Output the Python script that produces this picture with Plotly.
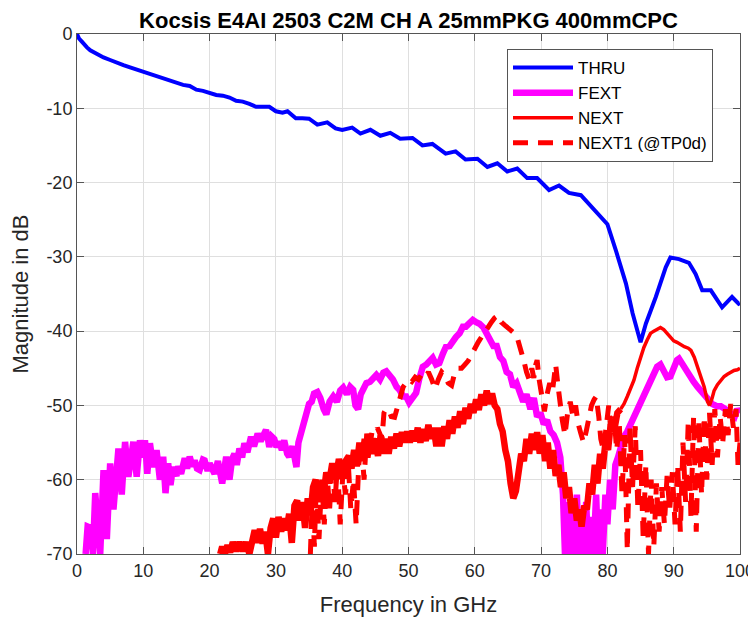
import plotly.graph_objects as go

TITLE = "Kocsis E4AI 2503 C2M CH A 25mmPKG 400mmCPC"
X_LABEL = "Frequency in GHz"
Y_LABEL = "Magnitude in dB"
SERIES_NAMES = ["THRU", "FEXT", "NEXT", "NEXT1 (@TP0d)"]

X_TICKS = [0, 10, 20, 30, 40, 50, 60, 70, 80, 90, 100]
X_TICK_TEXT = ["0", "10", "20", "30", "40", "50", "60", "70", "80", "90", "100"]
Y_TICKS = [-70, -60, -50, -40, -30, -20, -10, 0]
Y_TICK_TEXT = ["-70", "-60", "-50", "-40", "-30", "-20", "-10", "0"]

THRU_F = [0, 0.3, 0.7, 1, 1.5, 2, 3, 4, 5, 6, 7, 8, 9, 10, 11, 12, 13, 14, 15, 16,
          17, 18, 19, 20, 21, 22, 23, 24, 25, 26, 27, 28, 29, 30, 31, 31.75, 33, 34, 35,
          36.25, 37.75, 39, 40, 41.5, 42.75, 44.25, 45.75, 47.25, 48.75, 50.6, 52.1, 53.6,
          55.6, 57.1, 58.6, 60.4, 61.9, 63.4, 64.9, 66.4, 67.9, 69.4, 71.2, 72.7, 74.2, 76,
          77.5, 79.2, 80, 81.3, 82.8, 83.8, 84.5, 85, 85.8, 87.3, 88.8, 89.5, 90.8, 92.3,
          93.3, 94.3, 95.6, 96.3, 97.3, 98.8, 99.8, 100]
THRU_DB = [0, -0.6, -1.0, -1.35, -1.8, -2.2, -2.7, -3.15, -3.5, -3.9, -4.2, -4.5, -4.8, -5.1,
           -5.35, -5.6, -5.9, -6.2, -6.5, -6.85, -7.0, -7.5, -7.65, -7.9, -8.2, -8.3, -8.55,
           -9.0, -9.1, -9.4, -9.8, -9.8, -9.8, -10.4, -10.6, -10.4, -11.35, -11.35, -11.4,
           -12.2, -11.9, -12.7, -12.9, -12.6, -13.4, -12.9, -13.7, -13.3, -14.1, -14.0, -15.0,
           -14.8, -16.1, -15.8, -16.9, -16.8, -17.9, -17.4, -18.5, -18.1, -19.4, -19.4, -21.0,
           -20.4, -21.4, -21.7, -23.2, -24.8, -25.6, -29.2, -33.6, -37.6, -39.9, -41.5, -39.0,
           -35.4, -31.4, -30.1, -30.3, -30.8, -32.3, -34.5, -34.5, -35.4, -36.8, -35.4, -36.3,
           -36.2]

FEXT_F = [1.3, 1.6, 2.1, 2.4, 2.75, 3.1, 3.5, 4.0, 4.5, 5.0, 5.5, 6.25, 6.75, 7.25, 7.75, 8.5,
          9.0, 9.5, 10.0, 10.25, 10.6, 11.0, 11.5, 12.0, 12.5, 13.0, 13.35, 13.75, 14.1, 14.5,
          15.0, 15.25, 15.7, 16.25, 16.6, 17.0, 17.4, 17.75, 18.1, 18.5, 19.0, 19.25, 19.7,
          20.0, 20.4, 20.75, 21.25, 21.6, 21.9, 22.5, 22.8, 23.0, 23.4, 23.75, 24.1, 24.5,
          24.9, 25.25, 25.7, 26.25, 26.7, 27.25, 27.7, 28.5, 28.8, 29.0, 29.4, 29.75, 30.1,
          30.5, 30.9, 31.25, 31.7, 32.0, 32.5, 32.8, 33.1, 33.4, 33.75, 34.1, 34.5, 35.0,
          35.4, 35.75, 36.25, 36.7, 37.2, 37.6, 38.1, 38.65, 39.2, 39.7, 40.15, 40.7, 41.2,
          41.65, 42.0, 42.4, 42.8, 43.2, 43.65, 44.2, 44.7, 45.15, 45.7, 46.2, 46.65, 47.2,
          47.65, 48.2, 48.65, 49.2, 49.65, 50.1, 50.6, 51.15, 51.6, 52.15, 52.7, 53.2, 53.65,
          54.15, 54.65, 55.2, 55.65, 56.2, 56.7, 57.15, 57.7, 58.2, 58.65, 59.2, 59.7, 60.2,
          60.7, 61.3, 61.8, 62.3, 62.8, 63.3, 63.8, 64.3, 64.8, 65.3, 65.8, 66.3, 66.8, 67.3,
          67.8, 68.4, 68.9, 69.4, 69.9, 70.4, 70.9, 71.4, 71.9, 72.4, 72.9, 73.3, 73.6, 74.0,
          74.3, 74.7, 75.0, 75.4, 75.7, 76.0, 76.4, 76.8, 77.1, 77.5, 77.9, 78.3, 78.6, 79.0,
          79.3, 79.7, 80.0, 80.4, 80.8, 81.2, 81.6, 82.0, 82.5, 83.0, 83.5, 84.0, 84.5, 85.0,
          85.5, 86.0, 86.5, 87.0, 87.5, 88.0, 88.5, 89.0, 89.5, 90.0, 90.5, 90.8, 91.3, 92.0,
          92.5, 93.0, 93.6, 94.2, 95.1, 95.8, 96.5, 97.1, 97.8, 98.6, 99.2, 99.6, 100]
FEXT_DB = [-70, -66.3, -66.5, -70, -61.8, -66, -70, -58.7, -68, -57.8, -64, -55.8, -62, -54.9,
           -59.6, -54.9, -59.6, -54.7, -57, -54.7, -59.2, -55.1, -58.3, -56, -60, -56.9, -61.8,
           -57.8, -60.7, -58.3, -59.5, -58.2, -59.2, -57.1, -58.5, -56.9, -58.2, -57.4, -58.5,
           -58.7, -57.3, -57.4, -58.8, -57.8, -58.5, -59.2, -57.5, -59.0, -60.5, -56.9, -59.0,
           -60, -57.2, -56.5, -58.0, -55.8, -57.0, -55.1, -56.3, -54.2, -55.5, -53.8, -54.8,
           -53.3, -54.5, -55.6, -54.2, -54.5, -55.6, -54.9, -56, -54.7, -56.5, -56.9, -55.5,
           -57.5, -58.3, -55.0, -53.8, -53.0, -52, -49.8, -49.5, -48.4, -48.2, -49.0, -50.5,
           -51.2, -49.5, -48.8, -49.5, -48.0, -47.6, -48.5, -47.5, -47.9, -50.0, -50.5, -48.5,
           -47.5, -47.0, -46.8, -46.2, -45.9, -46.5, -45.6, -45.4, -46.0, -46.5, -47.5, -47.9,
           -48.8, -48.8, -49.6, -48.8, -48.3, -46.5, -44.8, -44.5, -44.0, -43.6, -44.5, -44.3,
           -43.0, -42.1, -42.0, -41.2, -40.8, -40.3, -39.4, -39.4, -38.8, -38.5, -38.8, -39.0,
           -39.5, -40.2, -41.0, -42.0, -42.0, -43.5, -44.0, -45.5, -45.8, -47.5, -47.0, -48.5,
           -49.5, -48.5, -50.5, -49.0, -51.5, -51.0, -52.5, -52.0, -53.5, -54.0, -55.0, -57.0,
           -62, -70, -63, -70, -64, -70, -62, -70, -66, -70, -63, -70, -65, -70, -62, -70, -64,
           -70, -62, -66, -60, -64, -58, -57, -55.5, -54.2, -53.5, -52.5, -51.8, -51, -49.5,
           -48.8, -47.9, -46.8, -45.8, -44.8, -44.5, -45.2, -46.2, -46.1, -44.8, -43.9, -43.7,
           -44.5, -45.2, -46.2, -46.8, -47.5, -48.2, -49.2, -49.8, -50.1, -50.1, -50.5, -51.0,
           -51.5, -50.5, -51.0]

NEXT_F = [21.6, 21.9, 22.3, 22.7, 23.1, 23.5, 24.0, 24.5, 25.0, 25.5, 26.0, 26.4, 26.8, 27.2,
          27.6, 28.0, 28.4, 28.8, 29.2, 29.6, 30.0, 30.4, 30.8, 31.2, 31.6, 32.0, 32.4, 32.8,
          33.2, 33.6, 34.0, 34.4, 34.8, 35.2, 35.6, 36.0, 36.4, 36.8, 37.2, 37.6, 38.0, 38.5,
          39.0, 39.5, 40.0, 40.5, 41.0, 41.4, 41.8, 42.2, 42.6, 43.0, 43.4, 43.8, 44.2, 44.6,
          45.0, 45.4, 45.8, 46.2, 46.6, 47.0, 47.4, 47.8, 48.2, 48.6, 49.0, 49.4, 49.8, 50.2,
          50.6, 51.0, 51.4, 51.8, 52.2, 52.6, 53.0, 53.4, 53.8, 54.2, 54.6, 55.0, 55.4, 55.8,
          56.2, 56.6, 57.0, 57.4, 57.8, 58.2, 58.6, 59.0, 59.4, 59.8, 60.2, 60.6, 61.0, 61.4,
          61.8, 62.2, 62.6, 63.0, 63.4, 63.8, 64.2, 64.6, 65.0, 65.4, 65.8, 66.2, 66.6, 67.0,
          67.4, 67.8, 68.2, 68.6, 69.0, 69.4, 69.8, 70.2, 70.6, 71.0, 71.4, 71.8, 72.2, 72.6,
          73.0, 73.4, 73.8, 74.2, 74.6, 75.0, 75.4, 75.8, 76.1, 76.5, 76.9, 77.3, 77.7, 78.1,
          78.5, 78.9, 79.3, 79.7, 80.1, 80.5, 81.0, 81.5, 82.0, 82.5, 83.0, 83.5, 84.0, 84.5,
          85.0, 85.5, 86.0, 86.5, 87.0, 87.5, 88.0, 88.5, 89.0, 89.5, 90.0, 90.5, 91.0, 91.6,
          92.2, 92.6, 93.1, 93.6, 94.1, 94.6, 95.1, 95.4, 95.8, 96.1, 96.6, 97.1, 97.6, 98.1,
          98.6, 99.1, 99.6, 100]
NEXT_DB = [-70, -69.0, -70, -68.8, -69.8, -68.4, -69.6, -68.4, -69.6, -68.4, -70, -68.0, -66.8,
           -68.5, -66.6, -68.6, -67.0, -70, -66.5, -65.2, -67.8, -65.0, -67.0, -65.2, -66.8,
           -64.6, -68.5, -63.5, -62.8, -65.5, -63.0, -66.5, -62.5, -64.8, -61.0, -60.0, -63.0,
           -60.2, -62.0, -59.0, -60.5, -57.8, -60.0, -57.2, -59.0, -57.5, -56.8, -58.5, -56.0,
           -58.2, -55.0, -57.5, -54.5, -57.0, -54.5, -56.5, -54.8, -56.8, -54.0, -56.5, -54.5,
           -56.5, -54.2, -55.8, -53.8, -55.5, -53.6, -55.0, -53.5, -55.0, -53.4, -54.8, -53.0,
           -55.0, -53.2, -54.8, -52.6, -54.5, -53.0, -55.5, -53.0, -55.5, -52.8, -54.5, -52.0,
           -53.8, -51.5, -53.0, -50.8, -52.5, -50.3, -51.8, -49.8, -51.0, -49.2, -50.6, -48.5,
           -50.0, -48.0, -49.8, -48.4, -50.0, -50.5, -52.5, -53.5, -56.0, -57.5, -60.5, -62.5,
           -61.5, -59.0, -56.5, -57.5, -54.5, -56.5, -53.8, -56.0, -53.6, -56.5, -54.0, -57.5,
           -55.0, -58.5, -56.0, -59.5, -58.0, -61.0, -59.0, -62.5, -61.0, -64.5, -62.5, -65.5,
           -64.0, -66.3, -63.5, -64.0, -60.5, -62.0, -58.0, -60.5, -56.5, -58.5, -55.0, -56.0,
           -52.5, -53.5, -51.0, -50.5, -49.8, -48.8, -47.8, -46.6, -45.0, -43.4, -42.2, -41.2,
           -40.3, -40.0, -39.7, -39.5, -39.8, -40.3, -40.8, -41.3, -41.5, -41.8, -42.1, -42.3,
           -42.6, -43.5, -44.8, -46.0, -47.5, -49.5, -50.0, -49.0, -48.0, -47.2, -46.6, -46.1,
           -45.8, -45.5, -45.3, -45.2, -45.0]

NEXT1_F = [35.2, 35.5, 35.8, 36.1, 36.5, 36.9, 37.3, 37.7, 38.1, 38.5, 38.9, 39.3, 39.7, 40.1,
           40.5, 40.9, 41.3, 41.7, 42.1, 42.5, 42.9, 43.3, 43.7, 44.1, 44.5, 44.9, 45.3, 45.7,
           46.0, 46.3, 46.6, 47.0, 47.4, 47.9, 48.6, 49.2, 49.7, 50.0, 50.5, 51.0, 51.5, 52.0,
           52.5, 53.0, 53.5, 54.0, 54.5, 55.0, 55.5, 56.0, 56.5, 57.0, 57.5, 58.0, 58.5, 59.0,
           59.5, 60.0, 60.5, 61.0, 61.5, 62.0, 62.5, 63.0, 63.5, 64.0, 64.5, 65.0, 65.5, 66.0,
           66.5, 67.0, 67.4, 67.8, 68.2, 68.6, 68.9, 69.2, 69.4, 69.7, 70.1, 70.5, 70.9, 71.3,
           71.7, 72.0, 72.2, 72.5, 72.8, 73.2, 73.6, 74.0, 74.4, 74.8, 75.2, 75.6, 76.0, 76.4,
           76.8, 77.2, 77.6, 78.0, 78.3, 78.7, 79.0, 79.4, 79.8, 80.2, 80.6, 81.0, 81.4, 81.8,
           82.2, 82.6, 83.0, 83.4, 83.8, 84.2, 84.6, 85.0, 85.4, 85.8, 86.2, 86.6, 87.0, 87.4,
           87.8, 88.2, 88.6, 89.0, 89.4, 89.8, 90.2, 90.6, 91.0, 91.4, 91.8, 92.2, 92.6, 93.0,
           93.4, 93.8, 94.2, 94.6, 95.0, 95.4, 95.8, 96.2, 96.6, 97.0, 97.4, 97.8, 98.2, 98.6,
           99.0, 99.4, 99.7, 100]
NEXT1_DB = [-70, -62, -69, -60.5, -68, -60, -66, -59, -64, -57.5, -63, -58, -66, -59, -62,
            -57.5, -64, -60, -66, -58, -55, -60, -53.8, -56, -53.5, -55.5, -53, -54, -54.5,
            -51, -50.5, -50.6, -51.5, -51.6, -49.6, -47.5, -46.9, -46.5, -46.8, -46.2, -46.5,
            -45.8, -46.2, -45.5, -46.5, -47.8, -46.5, -45.5, -46.0, -47.0, -47.3, -45.5, -45.0,
            -45.0, -44.5, -44.0, -43.2, -42.2, -41.5, -40.8, -40.0, -39.5, -38.8, -38.2, -37.9,
            -38.8, -39.2, -39.6, -39.8, -40.3, -41.2, -42.5, -44.0, -45.5, -46.5, -45.0, -46.3,
            -44.5, -43.9, -46.5, -48.5, -50.8, -48.5, -47.0, -48.2, -46.0, -44.5, -47.0, -49.5,
            -52.0, -54.0, -51.0, -49.5, -51.5, -50.0, -52.5, -53.8, -55.0, -53.5, -51.5, -50.0,
            -49.2, -48.8, -51.5, -54.5, -56.0, -52.5, -50.0, -54.0, -51.5, -56, -52.5, -62, -54,
            -69.5, -53, -61, -52.8, -64, -56, -68, -58, -70, -60, -69, -60.5, -67, -61, -66,
            -59.5, -64, -59, -66, -58, -67, -55, -63, -52, -65, -51.5, -67, -52, -62, -51.5,
            -60, -51, -58, -50.5, -57, -51.5, -55, -50.5, -54, -49.8, -53, -50.5, -58, -55]

FONT = "Liberation Sans, Arial, sans-serif"
AX_COLOR = "#555555"

# The page body adds an 8 px offset; the figure is sized to fill the rest of the window.
PAGE_OFFSET = 8
FIG_W, FIG_H = 756 - PAGE_OFFSET, 621 - PAGE_OFFSET
PLOT_L, PLOT_R, PLOT_T, PLOT_B = 77, 740, 34, 554   # plot area in window pixels

# NEXT is very noisy below ~82 GHz and smooth above: draw the two parts with different widths
split = NEXT_F.index(82.0)

fig = go.Figure()
fig.add_trace(go.Scatter(x=THRU_F, y=THRU_DB, name=SERIES_NAMES[0], mode="lines",
                         line=dict(color="#0000ff", width=4)))
fig.add_trace(go.Scatter(x=FEXT_F, y=FEXT_DB, name=SERIES_NAMES[1], mode="lines",
                         line=dict(color="#ff00ff", width=6.5)))
fig.add_trace(go.Scatter(x=NEXT_F[:split + 1], y=NEXT_DB[:split + 1], name=SERIES_NAMES[2],
                         mode="lines", legendgroup="next", showlegend=False,
                         line=dict(color="#ff0000", width=6.5)))
fig.add_trace(go.Scatter(x=NEXT_F[split:], y=NEXT_DB[split:], name=SERIES_NAMES[2],
                         mode="lines", legendgroup="next", showlegend=True,
                         line=dict(color="#ff0000", width=3.5)))
fig.add_trace(go.Scatter(x=NEXT1_F, y=NEXT1_DB, name=SERIES_NAMES[3], mode="lines",
                         line=dict(color="#ff0000", width=5, dash="15px,10px")))

axis_common = dict(
    showgrid=True, gridcolor="#dfdfdf", gridwidth=1,
    showline=True, linecolor=AX_COLOR, linewidth=1, mirror="ticks",
    ticks="inside", ticklen=7, tickcolor=AX_COLOR, tickwidth=1,
    zeroline=False, automargin=False,
    tickfont=dict(family=FONT, size=18, color="#262626"),
)

plot_w = PLOT_R - PLOT_L
plot_h = PLOT_B - PLOT_T

fig.update_layout(
    width=FIG_W, height=FIG_H,
    margin=dict(l=PLOT_L - PAGE_OFFSET, r=756 - PLOT_R, t=PLOT_T - PAGE_OFFSET,
                b=621 - PLOT_B, autoexpand=False),
    paper_bgcolor="white", plot_bgcolor="white",
    title=dict(text="<b>" + TITLE + "</b>", x=((PLOT_L + PLOT_R) / 2 - PAGE_OFFSET) / FIG_W,
               xanchor="center", y=1 - (20 - PAGE_OFFSET) / FIG_H, yanchor="middle",
               yref="container", automargin=False,
               font=dict(family=FONT, size=22, color="black")),
    xaxis=dict(range=[0, 100], tickvals=X_TICKS, ticktext=X_TICK_TEXT,
               title=dict(text=X_LABEL, standoff=17,
                          font=dict(family=FONT, size=22, color="#262626")),
               **axis_common),
    yaxis=dict(range=[-70, 0], tickvals=Y_TICKS, ticktext=Y_TICK_TEXT,
               title=dict(text=Y_LABEL, standoff=11,
                          font=dict(family=FONT, size=22, color="#262626")),
               **axis_common),
    legend=dict(x=(507 - PLOT_L) / plot_w, y=1 - (49 - PLOT_T) / plot_h,
                xanchor="left", yanchor="top",
                bgcolor="white", bordercolor=AX_COLOR, borderwidth=1,
                font=dict(family=FONT, size=17, color="black"),
                itemwidth=60, tracegroupgap=0),
    showlegend=True,
)

fig.write_html("out.html")
